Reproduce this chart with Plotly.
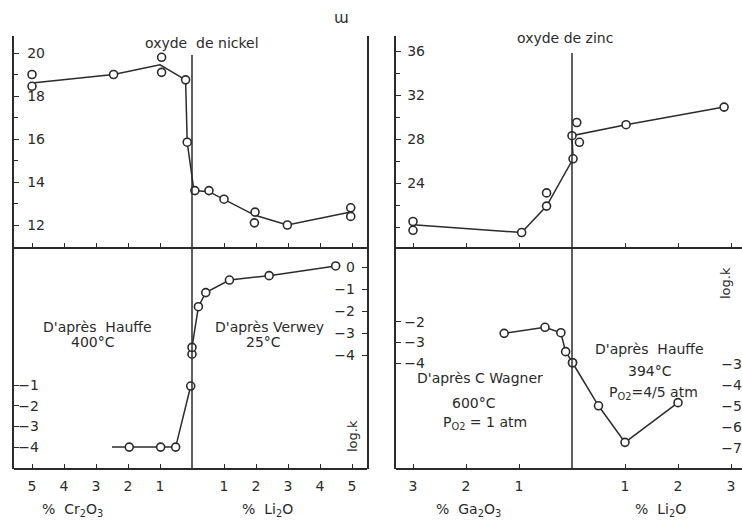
import plotly.graph_objects as go

W, H = 742, 522
def px(x): return x / W
def py(y): return 1 - y / H

# ---------------- data ----------------
# Oxyde de nickel (top-left); negative x = % Cr2O3, positive x = % Li2O
ni_line_x = [-5, -2.45, -1.0, -0.2, -0.15, 0.06, 0.53, 1.0, 1.97, 2.98, 4.96]
ni_line_y = [18.6, 19.0, 19.45, 18.75, 15.85, 13.6, 13.55, 13.2, 12.45, 12.0, 12.6]
ni_pts_x = [-5, -5, -2.45, -0.95, -0.95, -0.2, -0.15, 0.09, 0.53, 1.0, 1.97, 1.95, 2.98, 4.96, 4.96]
ni_pts_y = [19.0, 18.45, 19.0, 19.8, 19.1, 18.75, 15.85, 13.6, 13.6, 13.2, 12.6, 12.1, 12.0, 12.8, 12.4]

# log k, Hauffe 400 °C (Cr2O3 side) and Verwey 25 °C (Li2O side)
hauffe400_line_x = [-2.5, -1.96, -0.98, -0.51, -0.04]
hauffe400_line_y = [-4.0, -4.0, -4.0, -4.0, -1.05]
hauffe400_x = [-1.96, -0.98, -0.51, -0.04]
hauffe400_y = [-4.0, -4.0, -4.0, -1.05]
verwey_x = [0.0, 0.0, 0.2, 0.43, 1.17, 2.41, 4.49]
verwey_y = [-3.95, -3.64, -1.79, -1.15, -0.58, -0.38, 0.06]

# Oxyde de zinc (top-right); negative x = % Ga2O3, positive x = % Li2O
zn_line_x = [-3.0, -0.95, -0.48, 0.02, 0.0, 1.02, 2.87]
zn_line_y = [20.2, 19.5, 21.9, 26.2, 28.3, 29.3, 30.9]
zn_pts_x = [-3.0, -3.0, -0.95, -0.48, -0.48, 0.02, 0.0, 0.09, 0.14, 1.02, 2.87]
zn_pts_y = [20.5, 19.7, 19.5, 21.9, 23.1, 26.2, 28.3, 29.5, 27.7, 29.3, 30.9]

# log k, C. Wagner 600 °C (Ga2O3 side) and Hauffe 394 °C (Li2O side)
wagner_x = [-1.28, -0.51, -0.21, -0.12, 0.01]
wagner_y = [-2.56, -2.27, -2.53, -3.44, -3.97]
hauffe394_x = [0.01, 0.5, 1.0, 2.0]
hauffe394_y = [-2.94, -4.99, -6.73, -4.84]

# tick labels
ni_x_tickvals = [-5, -4, -3, -2, -1, 1, 2, 3, 4, 5]
ni_x_ticktext = ["5", "4", "3", "2", "1", "1", "2", "3", "4", "5"]
zn_x_tickvals = [-3, -2, -1, 1, 2, 3]
zn_x_ticktext = ["3", "2", "1", "1", "2", "3"]
ni_y_tickvals = [12, 14, 16, 18, 20]
ni_y_minor = [13, 15, 17, 19]
zn_y_tickvals = [24, 28, 32, 36]
zn_y_minor = [20, 22, 26, 30, 34]
h400_tickvals = [-1, -2, -3, -4]
h400_ticktext = ["−1", "−2", "−3", "−4"]
verwey_tickvals = [0, -1, -2, -3, -4]
verwey_ticktext = ["0", "−1", "−2", "−3", "−4"]
wagner_tickvals = [-2, -3, -4]
wagner_ticktext = ["−2", "−3", "−4"]
h394_tickvals = [-3, -4, -5, -6, -7]
h394_ticktext = ["−3", "−4", "−5", "−6", "−7"]

# ---------------- style ----------------
INK = "#2b2b2b"
FONT = dict(family="DejaVu Sans", size=14, color=INK)
LW = 1.5

fig = go.Figure()

def line(x, y, xa, ya):
    fig.add_trace(go.Scatter(x=x, y=y, xaxis=xa, yaxis=ya, mode="lines",
                             line=dict(color=INK, width=LW), hoverinfo="skip",
                             showlegend=False))

def pts(x, y, xa, ya):
    fig.add_trace(go.Scatter(x=x, y=y, xaxis=xa, yaxis=ya, mode="markers",
                             marker=dict(symbol="circle", size=8, color="white",
                                         line=dict(color=INK, width=1.6)),
                             showlegend=False))

# lines on the framed axes, markers on the overlaid label axes (same ranges)
line(ni_line_x, ni_line_y, "x", "y");                 pts(ni_pts_x, ni_pts_y, "x", "y7")
line(hauffe400_line_x, hauffe400_line_y, "x2", "y2"); pts(hauffe400_x, hauffe400_y, "x2", "y8")
line(verwey_x, verwey_y, "x2", "y3");                 pts(verwey_x, verwey_y, "x2", "y9")
line(zn_line_x, zn_line_y, "x3", "y4");               pts(zn_pts_x, zn_pts_y, "x3", "y10")
line(wagner_x, wagner_y, "x4", "y5");                 pts(wagner_x, wagner_y, "x4", "y11")
line(hauffe394_x, hauffe394_y, "x4", "y6");           pts(hauffe394_x, hauffe394_y, "x4", "y6")

# ---------------- geometry (pixel-based, page coordinates) ----------------
L0, L1, LC, LU = 14, 367, 192, 32.0      # left panel x
R0, R1, RC, RU = 396, 742, 572, 53.0     # right panel x
YM, YB = 247, 469                         # middle and bottom lines

def xr(p0, p1, c, u): return [(p0 - c) / u, (p1 - c) / u]
def yr(top, bot, ref_px, ref_v, u): return [ref_v - (bot - ref_px) / u, ref_v + (ref_px - top) / u]

common = dict(showgrid=False, zeroline=False, linecolor=INK, linewidth=LW,
              tickcolor=INK, tickwidth=1.3, tickfont=FONT)

R_NI = yr(36, YM, 225, 12, 21.5)
R_H400 = yr(YM, YB, 385, -1, 20.7)
R_VER = yr(YM, YB, 267.3, 0, 22.0)
R_ZN = yr(36, YM, 183, 24, 11.0)
R_WAG = yr(YM, YB, 321.7, -2, 20.8)
R_H394 = yr(YM, YB, 364, -3, 21.0)

def label_axis(over, rng, pos, vals, text=None):
    d = dict(overlaying=over, anchor="free", position=px(pos), side="left",
             range=rng, showline=False, ticks="", tickvals=vals, **common)
    if text is not None:
        d["ticktext"] = text
    return d

fig.update_layout(
    width=W, height=H, margin=dict(l=0, r=0, t=0, b=0),
    paper_bgcolor="white", plot_bgcolor="rgba(0,0,0,0)", showlegend=False,
    font=FONT,
    # top-left: oxyde de nickel
    xaxis=dict(domain=[px(L0), px(L1)], range=xr(L0, L1, LC, LU), anchor="y",
               showline=True, ticks="inside", ticklen=4, tickvals=ni_x_tickvals,
               showticklabels=False, **common),
    yaxis=dict(domain=[py(YM), py(36)], range=R_NI, anchor="x",
               showline=True, mirror=True, ticks="inside", ticklen=5,
               tickvals=ni_y_tickvals, showticklabels=False,
               minor=dict(tickvals=ni_y_minor, ticks="inside", ticklen=4, tickcolor=INK),
               **common),
    yaxis7=label_axis("y", R_NI, 45, ni_y_tickvals),
    # bottom-left: log k
    xaxis2=dict(domain=[px(L0), px(L1)], range=xr(L0, L1, LC, LU), anchor="free",
                position=py(YB), showline=True, ticks="inside", ticklen=4,
                tickvals=ni_x_tickvals, ticktext=ni_x_ticktext, ticklabelstandoff=4,
                **common),
    yaxis2=dict(domain=[py(YB), py(YM)], range=R_H400, anchor="x2",
                showline=True, ticks="inside", ticklen=5, tickvals=h400_tickvals,
                showticklabels=False, **common),
    yaxis8=label_axis("y2", R_H400, 39, h400_tickvals, h400_ticktext),
    yaxis3=dict(range=R_VER, anchor="x2", overlaying="y2", side="right",
                showline=True, ticks="inside", ticklen=5, tickvals=verwey_tickvals,
                showticklabels=False, **common),
    yaxis9=label_axis("y2", R_VER, 355, verwey_tickvals, verwey_ticktext),
    # top-right: oxyde de zinc
    xaxis3=dict(domain=[px(R0), px(R1)], range=xr(R0, R1, RC, RU), anchor="y4",
                showline=True, ticks="inside", ticklen=4, tickvals=zn_x_tickvals,
                showticklabels=False, **common),
    yaxis4=dict(domain=[py(YM), py(36)], range=R_ZN, anchor="x3",
                showline=True, ticks="inside", ticklen=5, tickvals=zn_y_tickvals,
                showticklabels=False,
                minor=dict(tickvals=zn_y_minor, ticks="inside", ticklen=4, tickcolor=INK),
                **common),
    yaxis10=label_axis("y4", R_ZN, 425, zn_y_tickvals),
    # bottom-right: log k
    xaxis4=dict(domain=[px(R0), px(R1)], range=xr(R0, R1, RC, RU), anchor="free",
                position=py(YB), showline=True, ticks="inside", ticklen=4,
                tickvals=zn_x_tickvals, ticktext=zn_x_ticktext, ticklabelstandoff=4,
                **common),
    yaxis5=dict(domain=[py(YB), py(YM)], range=R_WAG, anchor="x4",
                showline=True, ticks="inside", ticklen=5, tickvals=wagner_tickvals,
                showticklabels=False, **common),
    yaxis11=label_axis("y5", R_WAG, 425, wagner_tickvals, wagner_ticktext),
    yaxis6=label_axis("y5", R_H394, 742, h394_tickvals, h394_ticktext),
)

# central vertical lines (x = 0 of each panel)
fig.add_shape(type="line", xref="x", yref="paper", x0=0, x1=0, y0=py(YB), y1=py(55),
              line=dict(color=INK, width=LW))
fig.add_shape(type="line", xref="x3", yref="paper", x0=0, x1=0, y0=py(YB), y1=py(53),
              line=dict(color=INK, width=LW))

def ann(text, x, y, size=14, angle=0):
    fig.add_annotation(text=text, x=px(x), y=py(y), xref="paper", yref="paper",
                       showarrow=False, xanchor="center", yanchor="middle",
                       font=dict(family="DejaVu Sans", size=size, color=INK),
                       textangle=angle)

ann("ɯ", 341, 18, size=15)
ann("oxyde  de nickel", 202, 43)
ann("oxyde de zinc", 565, 38)
ann("D'après  Hauffe", 97, 327)
ann("400°C", 93, 342)
ann("D'après Verwey", 269, 327)
ann("25°C", 263, 342)
ann("log.k", 352, 436, size=13, angle=-90)
ann("log.k", 725, 283, size=13, angle=-90)
ann("D'après C Wagner", 480, 378)
ann("600°C", 474, 403)
ann("P<sub>O2</sub> = 1 atm", 485, 423)
ann("D'après  Hauffe", 649, 349)
ann("394°C", 650, 371)
ann("P<sub>O2</sub>=4/5 atm", 653, 393)
ann("%  Cr<sub>2</sub>O<sub>3</sub>", 72, 510)
ann("%  Li<sub>2</sub>O", 267, 510)
ann("%  Ga<sub>2</sub>O<sub>3</sub>", 468, 510)
ann("%  Li<sub>2</sub>O", 660, 510)

# remove the default 8px page margin so the 742x522 figure fills the window exactly
fig.write_html("out.html",
               config={"displayModeBar": False},
               post_script="document.body.style.margin='0';"
                           "document.body.style.overflow='hidden';")
